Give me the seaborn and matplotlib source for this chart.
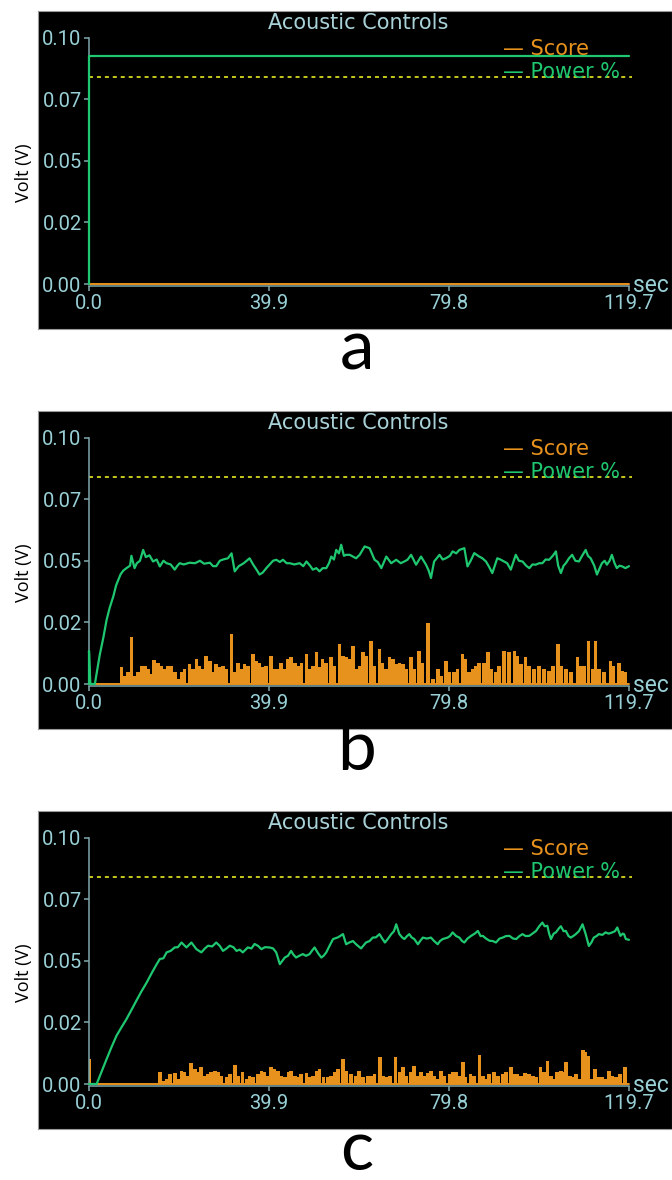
import numpy as np
import pandas as pd
import matplotlib
matplotlib.use("Agg")
import matplotlib.pyplot as plt
import seaborn as sns

# ---------------- data ----------------
panel_letters = ["a", "b", "c"]
chart_title = "Acoustic Controls"
series_names = ["Score", "Power %"]
x_ticks = [0.0, 39.9, 79.8, 119.7]
x_tick_labels = ["0.0", "39.9", "79.8", "119.7"]
y_ticks = [0.0, 0.025, 0.05, 0.075, 0.10]
y_tick_labels = ["0.00", "0.02", "0.05", "0.07", "0.10"]
threshold = 0.084
x_max = 119.7
y_max = 0.10

# panel a
power_a_t = [0.0, 0.0, 119.7]
power_a_v = [0.0, 0.0925, 0.0925]
score_a_t = []
score_a_v = []

# panel b
power_b_t = [0, 0, 0.3, 1.3, 2.4, 3.2, 3.9, 4.6, 5.4, 6.0, 6.5, 7.0, 7.6, 8.3, 9.1, 9.4, 10.1, 10.6,
             11.3, 12.0, 12.6, 13.4, 14.2, 15.0, 15.7, 16.5, 17.2, 18.1, 19.0, 19.6, 20.1, 21.0,
             22.3, 23.5, 24.6, 25.5, 26.8, 27.5, 28.2, 29.0, 29.7, 30.8, 31.6, 32.3, 33.2, 34.3,
             35.6, 36.4, 37.1, 37.8, 38.5, 39.3, 40.0, 40.8, 41.5, 42.3, 43.0, 43.8, 44.5, 45.5,
             46.7, 47.5, 48.2, 49.0, 49.6, 50.4, 51.1, 51.8, 52.6, 53.2, 53.7, 54.3, 54.8, 55.4,
             55.9, 56.5, 57.0, 57.8, 58.5, 59.2, 60.0, 61.1, 62.2, 63.3, 64.0, 64.8, 65.9, 67.0,
             68.1, 69.1, 70.0, 70.6, 71.4, 72.5, 73.6, 74.7, 75.3, 75.8, 76.5, 77.7, 78.4, 79.1,
             80.0, 80.6, 81.4, 82.1, 83.2, 83.9, 84.6, 85.4, 86.5, 87.2, 88.0, 88.7, 89.4, 90.5,
             91.2, 92.0, 92.7, 93.5, 94.6, 95.3, 96.1, 96.9, 97.6, 98.3, 99.0, 99.8, 100.5, 101.2,
             102.0, 102.8, 103.5, 104.0, 104.6, 105.2, 105.7, 106.4, 107.1, 107.8, 108.6, 109.3,
             110.1, 110.6, 111.2, 112.0, 112.6, 113.2, 113.7, 114.3, 114.8, 115.4, 115.9, 116.5,
             117.0, 117.6, 118.2, 118.9, 119.7]
power_b_v = [0, 0.0134, 0.0, 0.0, 0.012, 0.019, 0.026, 0.031, 0.0356, 0.040, 0.0423, 0.0445, 0.046,
             0.047, 0.048, 0.052, 0.047, 0.049, 0.050, 0.0544, 0.0515, 0.0522, 0.0497, 0.0505,
             0.0477, 0.050, 0.049, 0.0485, 0.0464, 0.048, 0.049, 0.0485, 0.0492, 0.049, 0.050,
             0.0488, 0.0492, 0.0478, 0.0478, 0.050, 0.0505, 0.051, 0.053, 0.0457, 0.0478, 0.049,
             0.051, 0.0484, 0.0465, 0.0444, 0.0452, 0.047, 0.0484, 0.050, 0.0504, 0.0495, 0.0504,
             0.049, 0.049, 0.0485, 0.049, 0.0478, 0.0497, 0.048, 0.0464, 0.0470, 0.0457, 0.0470,
             0.0470, 0.0490, 0.0517, 0.0505, 0.0544, 0.053, 0.0565, 0.052, 0.0524, 0.0524, 0.0517,
             0.051, 0.0524, 0.0558, 0.0551, 0.0504, 0.0495, 0.047, 0.0517, 0.049, 0.0504, 0.049,
             0.0498, 0.0504, 0.0524, 0.0484, 0.0517, 0.0484, 0.046, 0.043, 0.0497, 0.0524, 0.0505,
             0.051, 0.052, 0.0538, 0.053, 0.0544, 0.0551, 0.0477, 0.050, 0.0531, 0.0517, 0.051,
             0.0497, 0.0475, 0.045, 0.051, 0.0505, 0.0497, 0.049, 0.0464, 0.0524, 0.050, 0.0497,
             0.048, 0.047, 0.0485, 0.0484, 0.049, 0.049, 0.0505, 0.0504, 0.052, 0.0538, 0.048,
             0.045, 0.048, 0.049, 0.051, 0.0524, 0.050, 0.0497, 0.052, 0.0544, 0.052, 0.051, 0.048,
             0.0444, 0.047, 0.049, 0.050, 0.0484, 0.050, 0.0524, 0.049, 0.047, 0.048, 0.0477,
             0.047, 0.0478]
score_b_t = [7.2, 7.9, 8.6, 9.4, 10.1, 10.9, 11.6, 12.4, 13.1, 13.9, 14.4, 15.3, 16.0, 16.8, 17.5,
             18.3, 19.0, 19.8, 20.5, 21.2, 22.3, 23.0, 23.8, 24.5, 25.3, 26.0, 26.8, 27.5, 28.2,
             29.0, 29.7, 30.5, 31.6, 32.3, 33.0, 33.8, 34.5, 35.3, 36.4, 37.1, 37.8, 38.6, 39.3,
             40.4, 41.1, 41.9, 42.6, 43.4, 44.1, 44.8, 45.6, 46.3, 47.1, 48.2, 48.9, 49.6, 50.4,
             51.1, 51.8, 52.6, 53.7, 54.4, 55.5, 56.3, 57.0, 57.7, 58.5, 59.2, 60.0, 60.7, 61.4,
             62.5, 63.2, 64.4, 65.1, 65.9, 66.6, 67.4, 68.1, 68.8, 69.6, 70.3, 71.4, 72.1, 73.2,
             73.9, 75.2, 76.2, 77.3, 78.0, 79.1, 79.9, 80.9, 81.7, 82.8, 83.5, 84.3, 85.0, 85.8,
             86.5, 87.6, 88.4, 89.1, 90.2, 90.9, 92.0, 93.1, 94.3, 95.0, 95.7, 96.8, 97.6, 98.7,
             99.8, 100.9, 102.0, 102.9, 103.9, 104.6, 105.7, 106.8, 108.3, 109.0, 109.8, 110.7,
             111.6, 112.3, 113.1, 114.1, 115.6, 116.3, 117.5, 118.2, 118.8]
score_b_v = [0.0067, 0.0034, 0.0047, 0.0191, 0.0034, 0.0047, 0.0074, 0.0074, 0.0060, 0.0040, 0.0097,
             0.0087, 0.0074, 0.0060, 0.0074, 0.0074, 0.0047, 0.0020, 0.0047, 0.0060, 0.0081, 0.0060,
             0.0101, 0.0074, 0.0060, 0.0114, 0.0094, 0.0047, 0.0081, 0.0067, 0.0074, 0.0060, 0.0202,
             0.0047, 0.0087, 0.0060, 0.0081, 0.0074, 0.0121, 0.0094, 0.0087, 0.0067, 0.0074, 0.0114,
             0.0060, 0.0060, 0.0087, 0.0060, 0.0101, 0.0108, 0.0087, 0.0074, 0.0087, 0.0121, 0.0060,
             0.0074, 0.0128, 0.0067, 0.0101, 0.0087, 0.0108, 0.0074, 0.0164, 0.0114, 0.0108, 0.0101,
             0.0155, 0.0060, 0.0074, 0.0128, 0.0114, 0.0175, 0.0074, 0.0141, 0.0087, 0.0060, 0.0108,
             0.0101, 0.0081, 0.0087, 0.0081, 0.0060, 0.0108, 0.0060, 0.0134, 0.0087, 0.0249, 0.0020,
             0.0060, 0.0034, 0.0094, 0.0047, 0.0047, 0.0060, 0.0121, 0.0101, 0.0047, 0.0060, 0.0074,
             0.0087, 0.0087, 0.0128, 0.0060, 0.0047, 0.0074, 0.0134, 0.0128, 0.0134, 0.0114, 0.0081,
             0.0108, 0.0074, 0.0060, 0.0074, 0.0060, 0.0054, 0.0074, 0.0161, 0.0074, 0.0060, 0.0047,
             0.0108, 0.0074, 0.0074, 0.0175, 0.0060, 0.0175, 0.0060, 0.0047, 0.0094, 0.0074, 0.0087,
             0.0054, 0.0047]

# panel c
power_c_t = [0, 1.7, 3.9, 5.0, 6.1, 7.2, 8.3, 9.4, 10.5, 11.6, 12.8, 13.9, 15.0, 15.7, 16.5, 17.2,
             18.1, 19.0, 19.7, 20.5, 21.6, 22.7, 23.8, 24.9, 25.7, 26.4, 27.3, 28.2, 29.0, 29.7,
             30.5, 31.2, 32.0, 32.7, 33.4, 34.1, 35.2, 36.0, 36.7, 37.5, 38.2, 39.0, 40.0, 40.8,
             41.5, 42.3, 43.4, 44.1, 44.8, 45.3, 45.9, 46.6, 47.4, 48.1, 48.9, 49.4, 50.0, 50.8,
             51.5, 52.0, 52.6, 53.3, 54.1, 55.2, 56.3, 57.0, 57.7, 58.5, 59.2, 60.3, 61.4, 62.2,
             62.9, 63.6, 64.4, 65.0, 65.6, 66.3, 67.0, 67.6, 68.1, 68.8, 69.4, 69.9, 70.5, 71.0,
             71.5, 72.1, 72.9, 73.4, 74.0, 74.9, 75.8, 76.5, 77.3, 77.8, 78.4, 79.5, 80.0, 80.6,
             81.4, 82.1, 82.7, 83.2, 83.9, 84.7, 85.5, 86.2, 86.8, 87.3, 88.0, 88.8, 89.5, 90.2,
             91.0, 91.7, 92.4, 93.2, 94.0, 94.7, 95.4, 96.1, 96.8, 97.6, 98.3, 99.1, 99.8, 100.5,
             101.0, 101.6, 102.0, 102.4, 103.0, 103.5, 104.1, 104.6, 105.2, 105.7, 106.3, 106.8,
             107.4, 107.9, 108.6, 109.4, 110.1, 110.8, 111.4, 111.9, 112.5, 113.0, 113.8, 114.5,
             115.2, 116.0, 116.6, 117.1, 117.8, 118.3, 118.6, 119.0, 119.7]
power_c_v = [0, 0, 0.0101, 0.015, 0.0196, 0.023, 0.0263, 0.030, 0.0338, 0.0375, 0.0412, 0.045,
             0.0486, 0.0507, 0.051, 0.0534, 0.054, 0.0554, 0.0555, 0.0574, 0.0554, 0.0574, 0.0547,
             0.0534, 0.055, 0.0561, 0.0558, 0.0574, 0.056, 0.054, 0.055, 0.0561, 0.0555, 0.054,
             0.0545, 0.0534, 0.0554, 0.055, 0.0568, 0.056, 0.0547, 0.0555, 0.0554, 0.055, 0.0534,
             0.0486, 0.0513, 0.052, 0.054, 0.0525, 0.0513, 0.052, 0.0527, 0.052, 0.0527, 0.054,
             0.0554, 0.053, 0.0513, 0.052, 0.0534, 0.056, 0.0588, 0.0595, 0.0608, 0.0567, 0.0574,
             0.058, 0.0567, 0.055, 0.0574, 0.058, 0.0594, 0.0595, 0.0608, 0.059, 0.0574, 0.059,
             0.0608, 0.062, 0.0648, 0.0608, 0.0595, 0.0588, 0.060, 0.0608, 0.0595, 0.0588, 0.0567,
             0.058, 0.0594, 0.059, 0.0594, 0.058, 0.0567, 0.058, 0.0588, 0.0594, 0.060, 0.0615,
             0.060, 0.0594, 0.058, 0.0574, 0.059, 0.0601, 0.061, 0.0621, 0.060, 0.0601, 0.059,
             0.0581, 0.058, 0.0574, 0.059, 0.0594, 0.060, 0.0601, 0.059, 0.0588, 0.060, 0.0608,
             0.060, 0.0601, 0.061, 0.0621, 0.064, 0.0655, 0.064, 0.0642, 0.061, 0.0588, 0.061,
             0.0615, 0.063, 0.064, 0.062, 0.0621, 0.060, 0.0594, 0.0601, 0.0608, 0.062, 0.0648,
             0.0608, 0.056, 0.0575, 0.0594, 0.060, 0.0608, 0.0605, 0.0615, 0.061, 0.0615, 0.062,
             0.0635, 0.0601, 0.061, 0.0608, 0.0588, 0.0585]
score_c_t = [0.0, 15.7, 16.4, 17.2, 17.9, 19.0, 19.7, 20.5, 21.2, 21.7, 22.6, 23.5, 24.2, 24.8, 25.7,
             26.4, 27.1, 27.9, 28.6, 29.4, 30.5, 31.2, 32.3, 33.0, 34.0, 34.9, 35.6, 36.4, 37.5,
             38.2, 38.9, 39.7, 40.4, 41.1, 41.9, 42.6, 43.4, 44.3, 44.8, 45.6, 46.3, 47.0, 48.2,
             48.9, 49.6, 50.4, 51.1, 52.0, 53.0, 53.7, 54.4, 55.2, 56.3, 57.0, 58.1, 59.2, 59.9,
             60.7, 61.8, 62.5, 63.3, 64.5, 65.3, 66.0, 66.7, 67.9, 68.8, 69.6, 70.3, 71.4, 72.1,
             72.9, 73.6, 74.3, 75.1, 75.8, 76.6, 77.1, 78.0, 78.8, 79.9, 80.6, 81.3, 82.1, 82.9,
             83.5, 84.6, 85.4, 86.6, 87.3, 88.0, 88.7, 89.8, 90.6, 91.7, 92.4, 93.5, 94.2, 94.9,
             95.7, 96.7, 97.5, 98.4, 99.1, 100.1, 100.9, 101.6, 102.4, 103.0, 103.8, 104.6, 105.3,
             105.8, 106.6, 107.3, 108.0, 108.8, 109.5, 110.1, 110.7, 111.5, 112.2, 113.0, 113.7,
             114.5, 115.2, 116.0, 116.8, 117.7, 118.8]
score_c_v = [0.0101, 0.0047, 0.0014, 0.0020, 0.0041, 0.0045, 0.0020, 0.0054, 0.0047, 0.0034, 0.0084,
             0.0061, 0.0047, 0.0068, 0.0034, 0.0041, 0.0047, 0.0054, 0.0047, 0.0034, 0.0027, 0.0041,
             0.0078, 0.0034, 0.0047, 0.0020, 0.0034, 0.0027, 0.0041, 0.0054, 0.0047, 0.0034, 0.0068,
             0.0061, 0.0054, 0.0034, 0.0027, 0.0047, 0.0054, 0.0034, 0.0027, 0.0041, 0.0045, 0.0027,
             0.0034, 0.0054, 0.0061, 0.0027, 0.0027, 0.0034, 0.0047, 0.0061, 0.0101, 0.0054, 0.0041,
             0.0034, 0.0054, 0.0027, 0.0034, 0.0034, 0.0041, 0.0111, 0.0034, 0.0027, 0.0034, 0.0111,
             0.0047, 0.0068, 0.0034, 0.0047, 0.0074, 0.0034, 0.0047, 0.0034, 0.0045, 0.0054, 0.0034,
             0.0020, 0.0054, 0.0034, 0.0041, 0.0047, 0.0047, 0.0034, 0.0090, 0.0027, 0.0041, 0.0034,
             0.0118, 0.0034, 0.0020, 0.0041, 0.0047, 0.0034, 0.0041, 0.0047, 0.0068, 0.0041, 0.0041,
             0.0034, 0.0045, 0.0041, 0.0034, 0.0027, 0.0068, 0.0047, 0.0095, 0.0034, 0.0020, 0.0047,
             0.0054, 0.0047, 0.0090, 0.0034, 0.0027, 0.0041, 0.0020, 0.0138, 0.0128, 0.0115, 0.0020,
             0.0061, 0.0027, 0.0027, 0.0020, 0.0054, 0.0034, 0.0027, 0.0041, 0.0070]

panels = [
    (power_a_t, power_a_v, score_a_t, score_a_v),
    (power_b_t, power_b_v, score_b_t, score_b_v),
    (power_c_t, power_c_v, score_c_t, score_c_v),
]

# ---------------- style ----------------
sns.set_style("dark")
plt.rcParams["font.family"] = ["DejaVu Sans"]

GREEN = "#1fc870"
ORANGE = "#e8921e"
YELLOW = "#d8d820"
AXIS_C = "#7fa8ad"
TICK_C = "#98d0d6"
TITLE_C = "#a9d2d8"
NARROW = ["Roboto", "DejaVu Sans"]

W, H = 672, 1180
fig = plt.figure(figsize=(W / 100, H / 100), dpi=100)
fig.patch.set_facecolor("white")


def fx(x):
    return x / W


def fy(y):
    return 1 - y / H


for i, (pt, pv, st, sv) in enumerate(panels):
    off = 400 * i
    # black instrument screen
    bg = fig.add_axes([fx(38), fy(329 + off), fx(W - 38), (329 - 10.7) / H])
    bg.set_facecolor("black")
    bg.set_xticks([])
    bg.set_yticks([])
    bg.grid(False)
    for s in bg.spines.values():
        s.set_color("#9a9a9a")
        s.set_linewidth(0.8)

    ax = fig.add_axes([fx(89), fy(284 + off), 540 / W, (284 - 37.5) / H])
    ax.patch.set_alpha(0)
    ax.grid(False)
    ax.set_xlim(0, x_max)
    ax.set_ylim(0, y_max)

    # score bars
    if len(st):
        ax.bar(st, sv, width=0.8, color=ORANGE, linewidth=0, zorder=2)
    ax.axhline(0, color=ORANGE, lw=1.4, zorder=3, clip_on=False)

    # threshold
    ax.axhline(threshold, xmin=0, xmax=1.006, color=YELLOW, lw=1.3,
               linestyle=(0, (2.2, 2.2)), zorder=2, clip_on=False)

    # power line
    df = pd.DataFrame({"t": pt, "v": pv})
    sns.lineplot(data=df, x="t", y="v", ax=ax, color=GREEN, lw=1.6,
                 estimator=None, sort=False, legend=False, zorder=4, clip_on=False)

    ax.set_xlabel("")
    ax.set_ylabel("")
    for side in ["top", "right"]:
        ax.spines[side].set_visible(False)
    for side in ["left", "bottom"]:
        ax.spines[side].set_visible(True)
        ax.spines[side].set_color(AXIS_C)
        ax.spines[side].set_linewidth(1.1)
    ax.spines["bottom"].set_position(("outward", 1.2))
    ax.set_xticks(x_ticks)
    ax.set_xticklabels(x_tick_labels)
    ax.set_yticks(y_ticks)
    ax.set_yticklabels(y_tick_labels)
    ax.tick_params(axis="both", direction="out", length=3.8, width=1.1, color=AXIS_C,
                   labelcolor=TICK_C, labelsize=14.5, left=True, bottom=True)
    ax.tick_params(axis="y", pad=1.5)
    ax.tick_params(axis="x", pad=2.5)
    for lab in ax.get_xticklabels() + ax.get_yticklabels():
        lab.set_family(NARROW)

    # texts
    fig.text(fx(358), fy(23 + off), chart_title, ha="center", va="center",
             color=TITLE_C, fontsize=15)
    fig.text(fx(503), fy(49 + off), "\u2014 " + series_names[0], ha="left", va="center",
             color=ORANGE, fontsize=15)
    fig.text(fx(503), fy(72 + off), "\u2014 " + series_names[1], ha="left", va="center",
             color=GREEN, fontsize=15)
    fig.text(fx(633), fy(285 + off), "sec", ha="left", va="center",
             color=TICK_C, fontsize=16.5, family=NARROW)
    fig.text(fx(24), fy(173 + off), "Volt (V)", rotation=90, ha="center", va="center",
             color="black", fontsize=13, family=["Open Sans", "DejaVu Sans"])
    fig.text(fx(357), fy(382 + off), panel_letters[i], ha="center", va="bottom",
             color="black", fontsize=50, family=["Lato", "DejaVu Sans"])

fig.savefig("out.png", dpi=100, facecolor="white")
